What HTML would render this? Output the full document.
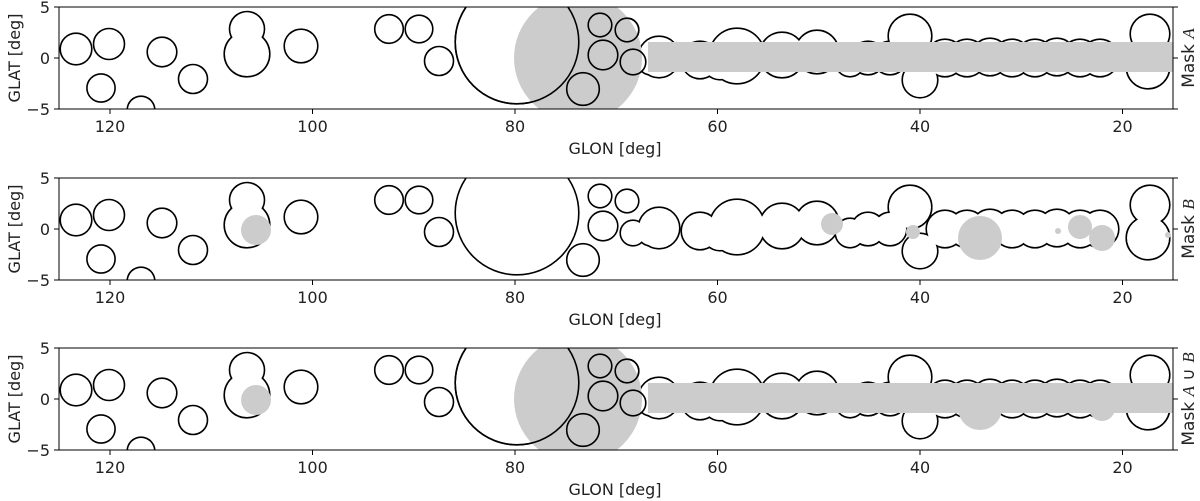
<!DOCTYPE html>
<html><head><meta charset="utf-8"><style>
html,body{margin:0;padding:0;background:#fff;}
svg{display:block;font-family:"DejaVu Sans","Liberation Sans",sans-serif;}
</style></head><body>
<svg width="1200" height="501" viewBox="0 0 1200 501" xmlns="http://www.w3.org/2000/svg">
<defs>
<g id="O" fill="#000" stroke="#000" stroke-width="3.2">
<circle cx="76" cy="42" r="15"/><circle cx="109" cy="37" r="14.7"/><circle cx="101" cy="81" r="13.3"/>
<circle cx="141" cy="103" r="13"/><circle cx="162" cy="45" r="14"/><circle cx="193" cy="72" r="13.7"/>
<circle cx="247" cy="22" r="16.7"/><circle cx="247" cy="47" r="22"/><circle cx="301" cy="39" r="16"/>
<circle cx="389" cy="22" r="13.5"/><circle cx="419" cy="22" r="13"/><circle cx="439" cy="54" r="13.7"/>
<circle cx="517" cy="35" r="61"/><circle cx="583" cy="82" r="15.5"/>
<circle cx="600" cy="18" r="11"/><circle cx="627" cy="23" r="11"/><circle cx="603" cy="48" r="14"/>
<circle cx="633" cy="55" r="12"/><circle cx="650" cy="56" r="11"/>
<circle cx="659" cy="50" r="20"/><circle cx="700" cy="53" r="18"/><circle cx="720" cy="55" r="17"/>
<circle cx="737" cy="49" r="27"/><circle cx="782" cy="48" r="22"/><circle cx="817" cy="45" r="21"/>
<circle cx="850" cy="55" r="14"/><circle cx="868" cy="51" r="16"/><circle cx="890" cy="51" r="16"/>
<circle cx="910" cy="29" r="21"/><circle cx="920" cy="73" r="17"/>
<circle cx="945" cy="51" r="18"/><circle cx="967" cy="51" r="18"/><circle cx="990" cy="50" r="18"/>
<circle cx="1012" cy="51" r="18"/><circle cx="1035" cy="51" r="18"/><circle cx="1057" cy="50" r="18"/>
<circle cx="1080" cy="51" r="18"/><circle cx="1100" cy="51" r="18"/>
<circle cx="1150" cy="27" r="19"/><circle cx="1148" cy="60" r="21"/>
</g>
<g id="W" fill="#fff" stroke="none">
<circle cx="76" cy="42" r="15"/><circle cx="109" cy="37" r="14.7"/><circle cx="101" cy="81" r="13.3"/>
<circle cx="141" cy="103" r="13"/><circle cx="162" cy="45" r="14"/><circle cx="193" cy="72" r="13.7"/>
<circle cx="247" cy="22" r="16.7"/><circle cx="247" cy="47" r="22"/><circle cx="301" cy="39" r="16"/>
<circle cx="389" cy="22" r="13.5"/><circle cx="419" cy="22" r="13"/><circle cx="439" cy="54" r="13.7"/>
<circle cx="517" cy="35" r="61"/><circle cx="583" cy="82" r="15.5"/>
<circle cx="600" cy="18" r="11"/><circle cx="627" cy="23" r="11"/><circle cx="603" cy="48" r="14"/>
<circle cx="633" cy="55" r="12"/><circle cx="650" cy="56" r="11"/>
<circle cx="659" cy="50" r="20"/><circle cx="700" cy="53" r="18"/><circle cx="720" cy="55" r="17"/>
<circle cx="737" cy="49" r="27"/><circle cx="782" cy="48" r="22"/><circle cx="817" cy="45" r="21"/>
<circle cx="850" cy="55" r="14"/><circle cx="868" cy="51" r="16"/><circle cx="890" cy="51" r="16"/>
<circle cx="910" cy="29" r="21"/><circle cx="920" cy="73" r="17"/>
<circle cx="945" cy="51" r="18"/><circle cx="967" cy="51" r="18"/><circle cx="990" cy="50" r="18"/>
<circle cx="1012" cy="51" r="18"/><circle cx="1035" cy="51" r="18"/><circle cx="1057" cy="50" r="18"/>
<circle cx="1080" cy="51" r="18"/><circle cx="1100" cy="51" r="18"/>
<circle cx="1150" cy="27" r="19"/><circle cx="1148" cy="60" r="21"/>
</g>
<clipPath id="cp"><rect x="59" y="0" width="1114" height="102"/></clipPath>
<g id="redraw" fill="none" stroke="#000" stroke-width="1.6">
<circle cx="517" cy="35" r="61.8"/><circle cx="583" cy="82" r="16.3"/>
<circle cx="600" cy="18" r="11.8"/><circle cx="627" cy="23" r="11.8"/><circle cx="603" cy="48" r="14.8"/>
<circle cx="633" cy="55" r="12.8"/>
</g>
<g id="blobs" fill="#cccccc">
<circle cx="256" cy="52" r="15"/><circle cx="832" cy="46" r="11"/><circle cx="913" cy="54" r="7"/>
<circle cx="980" cy="60" r="22"/><circle cx="1058" cy="53" r="3"/><circle cx="1080" cy="49" r="12"/>
<circle cx="1102" cy="60" r="13"/><circle cx="1168" cy="57" r="3"/>
</g>
<g id="frame" fill="none" stroke="#000" stroke-width="1">
<rect x="59" y="0" width="1114" height="102"/>
<path d="M54 0H59M54 51H59M54 102H59M1173 0H1178M1173 51H1178M1173 102H1178M110 102V107M312.5 102V107M515 102V107M717.5 102V107M920 102V107M1122.5 102V107"/>
</g>
<g id="labels" font-size="16" fill="#222">
<text x="50" y="6" text-anchor="end">5</text>
<text x="50" y="57" text-anchor="end">0</text>
<text x="50" y="108" text-anchor="end">−5</text>
<text x="110" y="125" text-anchor="middle">120</text>
<text x="312.5" y="125" text-anchor="middle">100</text>
<text x="515" y="125" text-anchor="middle">80</text>
<text x="717.5" y="125" text-anchor="middle">60</text>
<text x="920" y="125" text-anchor="middle">40</text>
<text x="1122.5" y="125" text-anchor="middle">20</text>
<text x="615" y="147" text-anchor="middle">GLON [deg]</text>
<text transform="translate(20,51) rotate(-90)" text-anchor="middle">GLAT [deg]</text>
</g>
</defs>

<g transform="translate(0,7)">
<g clip-path="url(#cp)">
<use href="#O"/><use href="#W"/>
<circle cx="578" cy="51" r="64" fill="#cccccc"/>
<use href="#redraw"/>
<rect x="648" y="35" width="525" height="30" fill="#cccccc"/>
</g>
<use href="#frame"/><use href="#labels"/>
<text transform="translate(1194,51) rotate(-90)" text-anchor="middle" font-size="17" fill="#222">Mask <tspan font-family="Liberation Serif,serif" font-style="italic">A</tspan></text>
</g>

<g transform="translate(0,178)">
<g clip-path="url(#cp)">
<use href="#O"/><use href="#W"/>
<use href="#blobs"/>
</g>
<use href="#frame"/><use href="#labels"/>
<text transform="translate(1194,51) rotate(-90)" text-anchor="middle" font-size="17" fill="#222">Mask <tspan font-family="Liberation Serif,serif" font-style="italic">B</tspan></text>
</g>

<g transform="translate(0,348)">
<g clip-path="url(#cp)">
<use href="#O"/><use href="#W"/>
<circle cx="578" cy="51" r="64" fill="#cccccc"/>
<use href="#blobs"/>
<use href="#redraw"/>
<rect x="648" y="35" width="525" height="30" fill="#cccccc"/>
</g>
<use href="#frame"/><use href="#labels"/>
<text transform="translate(1194,51) rotate(-90)" text-anchor="middle" font-size="17" fill="#222">Mask <tspan font-family="Liberation Serif,serif" font-style="italic">A</tspan> ∪ <tspan font-family="Liberation Serif,serif" font-style="italic">B</tspan></text>
</g>
</svg>
</body></html>
